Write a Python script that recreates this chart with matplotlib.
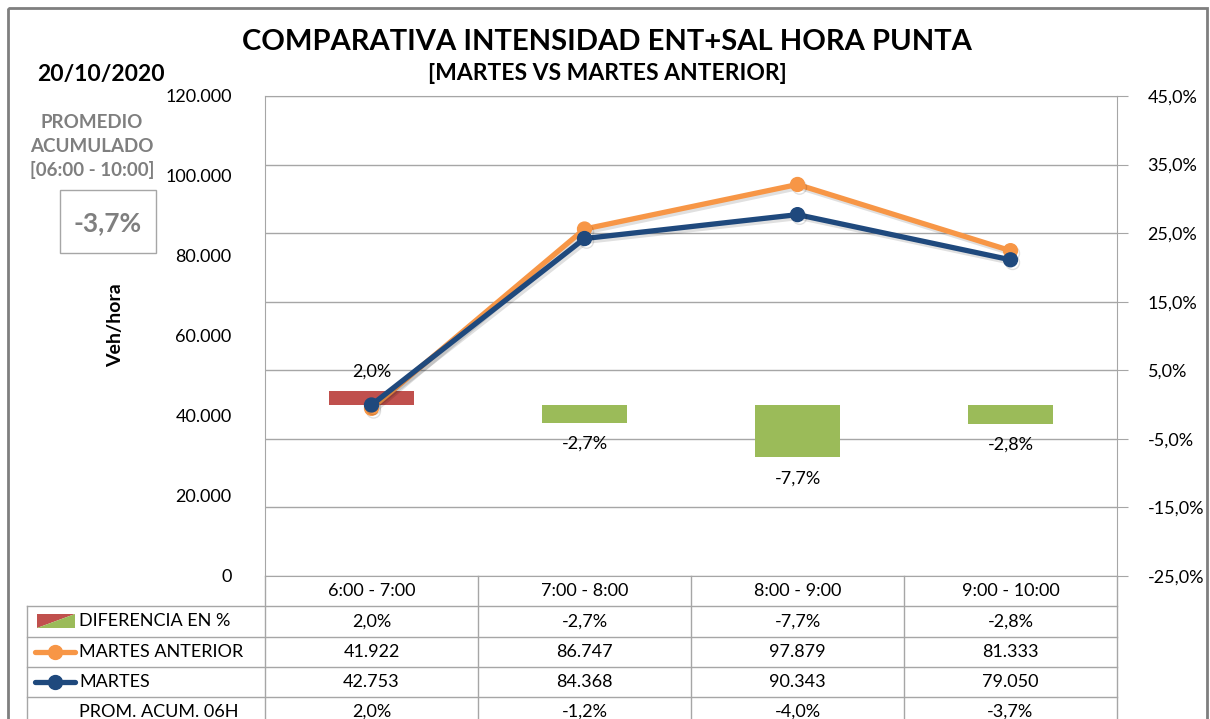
import matplotlib
matplotlib.use("Agg")
import matplotlib.pyplot as plt
from matplotlib.patches import Rectangle, Polygon
import matplotlib.patheffects as pe

# datos
franjas = ["6:00 - 7:00", "7:00 - 8:00", "8:00 - 9:00", "9:00 - 10:00"]
diferencia = [2.0, -2.7, -7.7, -2.8]
martes_anterior = [41922, 86747, 97879, 81333]
martes = [42753, 84368, 90343, 79050]
prom_acum = [2.0, -1.2, -4.0, -3.7]
fecha = "20/10/2020"
pct_ticks = [-25, -15, -5, 5, 15, 25, 35, 45]
veh_ticks = [0, 20000, 40000, 60000, 80000, 100000, 120000]

ROJO = "#C0504D"
VERDE = "#9BBB59"
NARANJA = "#F79646"
AZUL = "#1F497D"
GRIS = "#A6A6A6"
GRIS_TXT = "#7F7F7F"

plt.rcParams['font.family'] = ['Lato', 'DejaVu Sans']


def pct(v):
    return f"{v:.1f}".replace(".", ",") + "%"


def miles(v):
    return f"{v:,.0f}".replace(",", ".")


W, H = 1210, 719
fig = plt.figure(figsize=(W / 100, H / 100), dpi=100)


def caja(x0, y0, x1, y1):
    return [x0 / W, 1 - y1 / H, (x1 - x0) / W, (y1 - y0) / H]


bg = fig.add_axes([0, 0, 1, 1], zorder=0)
bg.set_xlim(0, W)
bg.set_ylim(H, 0)
bg.axis("off")

PL, PR, PT, PB = 265, 1117, 96, 576
ax = fig.add_axes(caja(PL, PT, PR, PB), zorder=1)
ax.patch.set_alpha(0)
x = list(range(len(franjas)))
colores = [ROJO if v >= 0 else VERDE for v in diferencia]
ax.bar(x, diferencia, width=0.4, color=colores, zorder=2)
ax.set_xlim(-0.5, len(franjas) - 0.5)
ax.set_ylim(pct_ticks[0], pct_ticks[-1])
ax.set_yticks(pct_ticks)
ax.set_yticklabels([pct(t) for t in pct_ticks])
ax.grid(axis="y", color=GRIS, lw=1)
ax.set_axisbelow(True)
ax.set_xticks([])
for s in ax.spines.values():
    s.set_color(GRIS)
for xi, v in zip(x, diferencia):
    ax.annotate(pct(v), (xi, v), xytext=(0, 14 if v >= 0 else -15),
                textcoords="offset points", ha="center", va="center", fontsize=13)

ax2 = ax.twinx()
ax.yaxis.tick_right()
ax.tick_params(axis="y", length=8, color=GRIS, pad=14, labelsize=13)
ax2.set_ylim(veh_ticks[0], veh_ticks[-1])
ax2.set_yticks(veh_ticks)
ax2.set_yticklabels([miles(t) for t in veh_ticks])
ax2.yaxis.tick_left()
ax2.tick_params(axis="y", length=0, pad=24, labelsize=13)
for s in ax2.spines.values():
    s.set_visible(False)
sombra = [pe.SimpleLineShadow(offset=(1.5, -2), alpha=0.12), pe.Normal()]
ax2.plot(x, martes_anterior, color=NARANJA, lw=3.8, marker="o", ms=10,
         zorder=3, path_effects=sombra)
ax2.plot(x, martes, color=AZUL, lw=3.8, marker="o", ms=10,
         zorder=4, path_effects=sombra)

# tabla de datos
cols = [PL + i * (PR - PL) / len(franjas) for i in range(len(franjas) + 1)]
filas = [576, 606, 637, 667, 697, 727]
for y in filas[1:5]:
    bg.plot([27, PR], [y, y], color=GRIS, lw=1)
bg.plot([27, 27], [filas[1], H], color=GRIS, lw=1)
for c in cols:
    bg.plot([c, c], [filas[0], H], color=GRIS, lw=1)

for i, f in enumerate(franjas):
    cx = (cols[i] + cols[i + 1]) / 2
    yc = lambda k: (filas[k] + filas[k + 1]) / 2
    bg.text(cx, yc(0), f, ha="center", va="center", fontsize=13)
    bg.text(cx, yc(1), pct(diferencia[i]), ha="center", va="center", fontsize=13)
    bg.text(cx, yc(2), miles(martes_anterior[i]), ha="center", va="center", fontsize=13)
    bg.text(cx, yc(3), miles(martes[i]), ha="center", va="center", fontsize=13)
    bg.text(cx, yc(4), pct(prom_acum[i]), ha="center", va="center", fontsize=13)

etiquetas = ["DIFERENCIA EN %", "MARTES ANTERIOR", "MARTES", "PROM. ACUM. 06H"]
for k, e in enumerate(etiquetas):
    bg.text(79, (filas[k + 1] + filas[k + 2]) / 2, e, ha="left", va="center", fontsize=13)

bg.add_patch(Polygon([(37, 614), (75, 614), (37, 628)], closed=True, color=ROJO, lw=0))
bg.add_patch(Polygon([(75, 614), (75, 628), (37, 628)], closed=True, color=VERDE, lw=0))
for yk, col in [(652, NARANJA), (682, AZUL)]:
    bg.plot([35, 75], [yk, yk], color=col, lw=3.8, solid_capstyle="round")
    bg.plot([55], [yk], marker="o", ms=10, color=col)

# textos
bg.text(607, 42, "COMPARATIVA INTENSIDAD ENT+SAL HORA PUNTA", ha="center", va="center",
        fontsize=21, fontweight="bold")
bg.text(607, 74, "[MARTES VS MARTES ANTERIOR]", ha="center", va="center",
        fontsize=16.5, fontweight="bold")
bg.text(101, 75, fecha, ha="center", va="center", fontsize=16.5, fontweight="bold")
for t, y in zip(["PROMEDIO", "ACUMULADO", "[06:00 - 10:00]"], [122, 146, 170]):
    bg.text(92, y, t, ha="center", va="center", fontsize=13.5, fontweight="bold", color=GRIS_TXT)
bg.add_patch(Rectangle((60, 190), 96, 63, fill=False, edgecolor=GRIS, lw=1))
bg.text(108, 223, pct(prom_acum[-1]), ha="center", va="center", fontsize=19,
        fontweight="bold", color=GRIS_TXT)
bg.text(116, 325, "Veh/hora", ha="center", va="center", rotation=90, fontsize=14,
        fontweight="bold")

bg.add_patch(Rectangle((8, 8), 1199, 740, fill=False, edgecolor="#7F7F7F", lw=2))

fig.savefig("out.png", dpi=100)
